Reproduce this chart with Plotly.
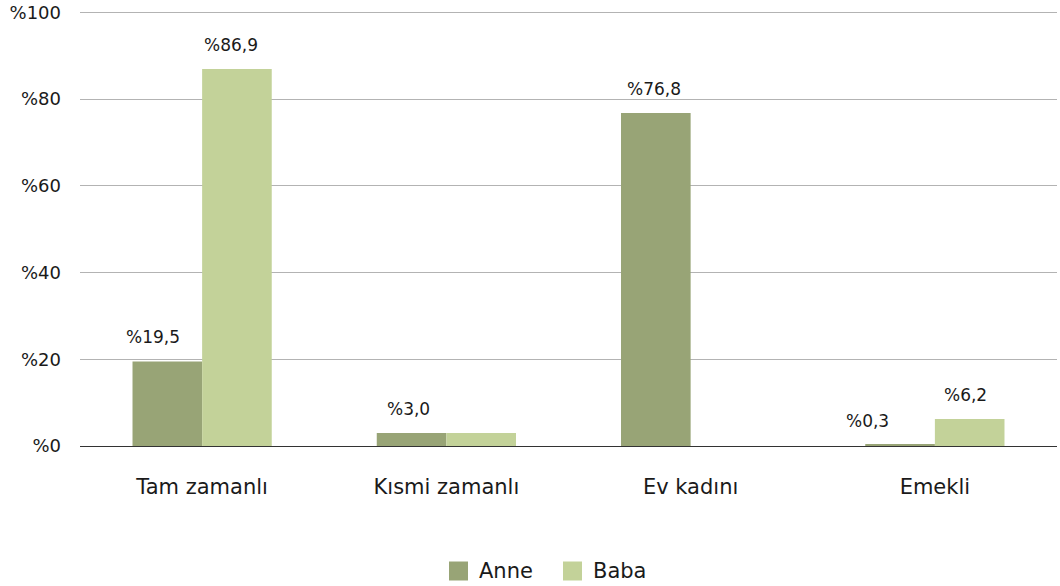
import plotly.graph_objects as go

categories = ["Tam zamanlı", "Kısmi zamanlı", "Ev kadını", "Emekli"]
anne = [19.5, 3.0, 76.8, 0.3]
baba = [86.9, 3.0, None, 6.2]
y_ticks = [0, 20, 40, 60, 80, 100]
y_tick_labels = ["%" + str(v) for v in y_ticks]

ANNE_COLOR = "#98a476"
BABA_COLOR = "#c3d299"
FONT = "DejaVu Sans"
TEXT = "#1a1a1a"

W, H = 1060, 586
M_L, M_R, M_T, M_B = 80, 3, 11, 140
PLOT_W = W - M_L - M_R
PLOT_H = H - M_T - M_B


def pct(v):
    return "%" + f"{v:.1f}".replace(".", ",")


def px_to_paper_x(px):
    return (px - M_L) / PLOT_W


def px_to_paper_y(py):
    return (H - M_B - py) / PLOT_H


fig = go.Figure()
fig.add_trace(go.Bar(name="Anne", x=categories, y=anne,
                     marker=dict(color=ANNE_COLOR, line=dict(width=0))))
fig.add_trace(go.Bar(name="Baba", x=categories, y=baba,
                     marker=dict(color=BABA_COLOR, line=dict(width=0))))

# value labels: (series values, label horizontal shift in px per category)
label_sets = [
    (anne, [-49, -38, -37, -67]),
    (baba, [29, None, None, 31]),
]
for values, shifts in label_sets:
    for cat, v, dx in zip(categories, values, shifts):
        if v is None or dx is None:
            continue
        fig.add_annotation(
            x=cat, y=v, text=pct(v), showarrow=False,
            xshift=dx, yshift=12, yanchor="bottom",
            font=dict(family=FONT, size=17, color=TEXT),
        )

# legend drawn below the axis: square swatch + series name
legend_items = [("Anne", ANNE_COLOR, 449), ("Baba", BABA_COLOR, 563)]
SWATCH = 19
LEGEND_CY = 571
for name, color, left in legend_items:
    fig.add_shape(
        type="rect", xref="paper", yref="paper",
        x0=px_to_paper_x(left), x1=px_to_paper_x(left + SWATCH),
        y0=px_to_paper_y(LEGEND_CY + SWATCH / 2), y1=px_to_paper_y(LEGEND_CY - SWATCH / 2),
        fillcolor=color, line=dict(width=0),
    )
    fig.add_annotation(
        xref="paper", yref="paper",
        x=px_to_paper_x(left + SWATCH + 9), y=px_to_paper_y(LEGEND_CY),
        xanchor="left", yanchor="middle", text=name, showarrow=False,
        font=dict(family=FONT, size=21, color=TEXT),
    )

fig.update_layout(
    width=W, height=H,
    margin=dict(l=M_L, r=M_R, t=M_T, b=M_B),
    paper_bgcolor="white", plot_bgcolor="white",
    barmode="group", bargap=0.43, bargroupgap=0,
    font=dict(family=FONT, size=18, color=TEXT),
    showlegend=False,
)
fig.update_xaxes(
    showgrid=False, showline=False, ticks="", automargin=False,
    tickfont=dict(family=FONT, size=21, color=TEXT),
    ticklabelstandoff=26,
)
fig.update_yaxes(
    range=[0, 100.3], tickvals=y_ticks, ticktext=y_tick_labels,
    showgrid=True, gridcolor="#b3b3b3", gridwidth=1,
    zeroline=True, zerolinecolor="#333333", zerolinewidth=1,
    showline=False, ticks="", automargin=False,
    tickfont=dict(family=FONT, size=18, color=TEXT),
    ticklabelstandoff=18,
)

fig.write_html("out.html")
